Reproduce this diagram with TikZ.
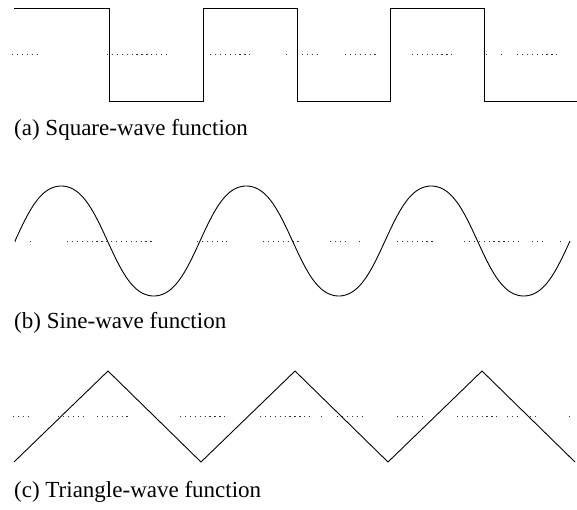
\documentclass[tikz,border=0pt]{standalone}
\usepackage{fontspec}
\setmainfont{Liberation Serif}
\begin{document}
\begin{tikzpicture}[x=1pt,y=-1pt,
  wave/.style={line width=0.9pt,black,line join=miter},
  midline/.style={line width=0.9pt,black!80,dash pattern=on 1.3pt off 3.6pt},
  caption/.style={anchor=west,inner sep=0pt,font=\fontsize{23}{27}\selectfont}]
\useasboundingbox (0,0) rectangle (577,510);
% (a) square wave
\draw[wave] (14,8) -- (109,8) -- (109,101) -- (203,101) -- (203,8) -- (297,8)
  -- (297,101) -- (390,101) -- (390,8) -- (484,8) -- (484,101) -- (577,101);
\foreach \a/\b in {12/40,107/168,210/250,286/288,302/319,345/379,412/452,486/488,501/503,517/557}
  \draw[midline] (\a,54) -- (\b,54);
\node[caption] (la) at (14,130) {(a) Square-wave function};
% (b) sine wave
\draw[wave] plot[domain=15:570,samples=300,smooth]
  (\x,{241-55*(sin(1.945946*(\x-15))+0.04*sin(5.837838*(\x-15)))/0.96});
\foreach \a/\b in {15/16,30/31,67/153,197/227,263/302,330/347,359/361,397/434,464/520,532/542,560/564}
  \draw[midline] (\a,241) -- (\b,241);
\node[caption] (lb) at (14,323) {(b) Sine-wave function};
% (c) triangle wave
\draw[wave] (14,462) -- (108,371) -- (201,462) -- (295,371) -- (388,462) -- (482,371) -- (575,462);
\foreach \a/\b in {13/32,58/83,97/128,180/227,260/310,321/323,337/362,397/422,457/497,507/517,530/535,569/571}
  \draw[midline] (\a,416) -- (\b,416);
\node[caption] (lc) at (14,492) {(c) Triangle-wave function};
\end{tikzpicture}
\end{document}
